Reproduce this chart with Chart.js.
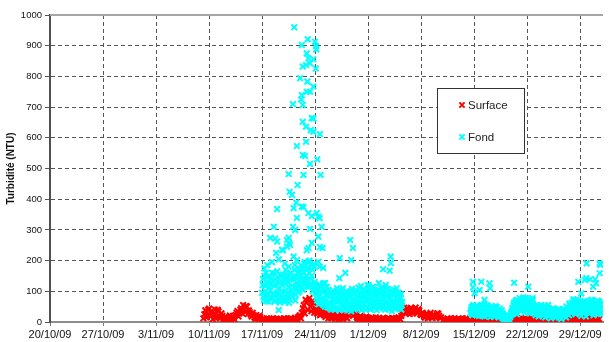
<!DOCTYPE html>
<html>
<head>
<meta charset="utf-8">
<script src="https://cdn.jsdelivr.net/npm/chart.js@4.4.1/dist/chart.umd.min.js"></script>
<style>
html,body{margin:0;padding:0;background:#fff;}
#wrap{width:609px;height:342px;}
</style>
</head>
<body>
<div id="wrap"><canvas id="c" width="609" height="342"></canvas></div>
<script>
// x values are days since 20/10/09; one tick label per week
const dateLabels = ['20/10/09','27/10/09','3/11/09','10/11/09','17/11/09','24/11/09',
                    '1/12/09','8/12/09','15/12/09','22/12/09','29/12/09'];
const yTicks = [0,100,200,300,400,500,600,700,800,900,1000];

// Surface turbidity (NTU): readings every 6 hours from day 20.25,
// plus the readings taken 3 hours after each of them
const surfaceStart = 20.25;
const surfaceStep = 0.25;
const surfaceValues = [
  12,38,22,44, 30,9,41,18, 35,12,20,6, 17,8,21,5, 14,22,36,28, 45,55,32,50,
  38,24,30,15, 22,10,16,7, 11,4,9,3, 7,12,5,9, 3,10,6,11, 4,8,12,5,
  10,6,15,22, 30,55,72,40, 78,35,62,45, 28,47,24,38, 22,30,12,25, 15,28,10,20,
  9,22,14,18, 12,35,55,20, 42,15,8,20, 6,14,18,9, 5,12,8,15, 3,11,7,14,
  9,4,13,6, 12,5,10,15, 8,30,46,27, 40,26,44,33, 47,29,38,22, 28,14,25,18,
  30,13,22,16, 27,12,null,9, 4,11,6,12, 3,9,7,10, 5,12,4,8, 3,6,2,5,
  1,4,6,2, 5,3,1,4, 2,6,3,5, 4,1,6,3, 2,5,3,6, 8,5,11,7,
  12,6,9,5, 10,7,12,6, 5,8,3,6, 4,7,2,5, 8,3,6,4, 2,7,5,3,
  9,15,7,12, 14,8,11,6, 5,10,13,4, 8,15,6,11, 4,9
];
const surfaceMidStart = 20.375;
const surfaceMidValues = [
  25,15,40,20, 36,24,12,40, 18,28,10,14, 6,15,10,19, 8,30,18,40, 28,42,52,26,
  32,18,22,10, 14,20,5,9, 6,12,5,10, 3,8,11,4, 8,4,12,7, 11,3,9,6,
  14,9,18,12, 45,28,62,70, 50,68,30,40, 36,22,44,30, 16,26,20,12, 22,12,18,8,
  16,10,20,13, 25,45,30,50, 28,12,16,10, 11,8,14,6, 9,14,4,10, 8,5,12,9,
  6,11,8,12, 7,13,4,11, 20,38,30,45, 32,46,28,40, 35,42,26,30, 20,26,12,24,
  18,25,14,28, 20,15,null,6, 8,3,10,5, 12,6,4,9, 10,6,11,4, 5,2,4,6,
  3,5,2,4, 2,6,3,5, 4,2,5,1, 3,5,2,4, 4,1,5,6, 10,6,9,12,
  8,11,7,10, 9,12,5,8, 3,6,4,7, 6,2,5,3, 5,7,3,6, 4,2,6,8,
  12,6,14,10, 9,12,7,10, 8,3,11,6, 12,5,9,14, 7
];

// Bottom ("Fond") turbidity: readings every 3 hours in two logging runs,
// plus the readings taken 90 minutes after each of them
const fondStep = 0.125;
const fondNovStart = 28.0;
const fondNovValues = [
  95,140,72,118,160,85,130,66,  150,104,78,135,92,158,70,122,
  88,145,110,64,132,98,155,80,  125,68,142,96,115,75,160,102,
  84,138,112,70,150,128,95,175, 120,185,140,105,160,195,130,150,
  178,115,200,140,125,170,110,190, 95,120,70,108,82,60,115,75,
  98,55,125,68,90,48,105,62,    85,40,72,102,55,88,45,110,
  64,95,38,78,105,52,90,70,     42,100,60,82,48,95,35,108,
  75,58,92,44,85,65,112,50,     96,38,72,104,56,88,42,80,
  110,60,95,45,82,115,52,90,    70,38,105,62,94,48,112,76,
  55,98,40,85,68,108,50,92,     78,35,100,60,88,45,110,72,
  96,52,80,40,65
];
const fondNovMidStart = 28.0625;
const fondNovMidValues = [
  120,82,150,100,68,145,90,112,  75,128,160,88,118,66,140,96,
  130,72,92,150,80,120,68,138,   100,155,82,130,62,140,90,118,
  145,95,170,88,110,160,135,100, 150,110,175,125,190,140,115,170,
  135,160,120,185,150,100,180,130, 110,78,95,58,122,90,66,100,
  70,110,50,85,115,62,92,45,     60,95,52,80,40,98,68,75,
  88,45,70,92,60,110,40,82,      72,55,90,38,78,62,100,50,
  95,40,68,102,52,80,45,90,      62,85,50,78,98,40,70,108,
  72,98,40,65,100,75,62,105,     52,88,75,45,68,95,58,100,
  85,62,110,58,90,42,75,64,      50,92,65,105,42,80,62,90,
  70,45,90,55
];
const fondDecStart = 55.5;
const fondDecValues = [
  30,48,22,55,
  38,25,52,33,45,20,50,36,  28,54,40,18,47,32,55,24,  42,16,38,50,26,45,20,35,
  48,30,15,44,25,38,12,22,  8,18,5,14,20,10,16,28,    45,30,62,38,70,25,55,42,
  78,35,60,48,80,30,66,52,  40,75,58,28,68,45,72,35,  50,22,55,38,18,46,30,52,
  25,48,35,15,44,28,55,20,  38,12,42,30,22,40,15,33,  25,42,18,35,10,38,28,20,
  40,15,32,45,22,55,30,62,  35,68,48,25,60,40,70,30,  55,20,65,42,30,58,18,50,
  45,68,28,60,38,70,22,52,  35,62,48,25,66,40,58,30
];
const fondDecMidStart = 55.5625;
const fondDecMidValues = [
  40,26,50,35,
  45,30,22,48,28,40,32,55,  20,44,35,50,25,42,30,48,  30,48,25,40,18,35,52,28,
  36,20,40,30,18,30,25,15,  12,6,15,10,8,18,22,35,    38,55,42,65,32,72,48,60,
  50,68,40,75,55,42,78,45,  62,30,65,50,38,78,52,45,  35,48,28,52,42,30,55,25,
  40,22,52,30,25,48,32,42,  22,35,28,45,18,32,26,40,  32,15,40,22,30,25,42,35,
  28,50,25,38,60,35,48,40,  58,45,30,72,38,55,45,62,  40,62,30,50,68,35,45,62,
  30,55,48,72,32,50,60,40,  52,40,70,35,55,28,48,65
];

// Additional bottom readings logged during the flood peak and later events
const fondPeakDays = [
  32.24,34.02,33.24,34.98,35.11,35.15,33.89,34.12,33.37,33.80,34.32,34.77,35.08,
  33.02,33.98,34.77,33.24,33.89,34.32,32.07,33.37,33.15,33.37,34.77,33.80,34.42,
  35.63,34.77,32.59,33.80,33.67,35.29,34.32,31.51,33.46,35.72,32.68,31.64,31.94,
  32.50,29.98,32.16,33.24,34.12,35.20,35.42,32.59,35.85,34.32,29.55,32.07,32.37,
  29.07,29.72,31.51,31.55,30.63,31.29,34.12,34.55,35.42,35.63,35.98,39.63,39.98,
  38.24,39.76,30.20,32.16,32.59,34.12,35.42,36.07,29.98,30.77,31.29,31.68,35.59,
  34.55,33.46,33.37,34.55,33.89,35.59,36.07,32.80,33.02,36.29,38.20,38.98,41.06,
  41.94,43.97,44.97,45.00,44.84,43.41,44.32,42.07,55.83,56.93,58.01,55.85,56.71,
  58.10,56.05,57.36,61.27,63.13,70.83,72.57,72.57,69.74,70.61,71.30,71.96,71.70,
  69.09,70.13,72.09,72.65,70.80,28.30,28.90,29.30,30.00,30.50,31.10,31.80,32.30,
  30.20,28.68,29.85,31.00,31.50
];
const fondPeakValues = [
  960,921,902,913,899,888,875,859,832,837,843,856,826,
  794,783,767,739,750,750,710,707,725,652,663,636,625,
  612,620,573,587,541,530,515,482,479,479,446,424,414,
  389,368,371,376,355,355,343,339,310,303,310,310,300,
  274,272,274,257,235,245,241,258,278,244,241,267,241,
  208,202,204,213,202,196,196,176,262,234,267,251,338,
  345,374,544,664,234,180,126,115,160,127,143,160,117,
  120,172,213,192,167,127,120,120,131,131,126,113,104,
  110,94,72,128,115,191,191,159,131,137,139,139,115,
  74,93,126,186,143,175,150,195,165,150,170,140,185,
  39,185,225,190,180
];

function regularSeries(start, step, values) {
  return values.map((v, i) => ({ x: start + i * step, y: v }));
}
function pairedSeries(days, values) {
  return days.map((d, i) => ({ x: d, y: values[i] }));
}

const surfaceData = regularSeries(surfaceStart, surfaceStep, surfaceValues)
  .concat(regularSeries(surfaceMidStart, surfaceStep, surfaceMidValues));
const fondData = regularSeries(fondNovStart, fondStep, fondNovValues)
  .concat(regularSeries(fondNovMidStart, fondStep, fondNovMidValues))
  .concat(regularSeries(fondDecStart, fondStep, fondDecValues))
  .concat(regularSeries(fondDecMidStart, fondStep, fondDecMidValues))
  .concat(pairedSeries(fondPeakDays, fondPeakValues));

const FONT = '"Liberation Sans", Arial, Helvetica, sans-serif';

// Solid frame line along the top and a boxed legend inside the plot
const frameAndLegend = {
  id: 'frameAndLegend',
  beforeDatasetsDraw(chart) {
    const { ctx, chartArea } = chart;
    ctx.save();
    ctx.strokeStyle = '#a6a6a6';
    ctx.lineWidth = 2;
    ctx.beginPath();
    ctx.moveTo(chartArea.left, chartArea.top);
    ctx.lineTo(chartArea.right, chartArea.top);
    ctx.stroke();
    ctx.restore();
  },
  afterDraw(chart, args, opts) {
    const ctx = chart.ctx;
    const b = opts.box;
    ctx.save();
    ctx.fillStyle = '#ffffff';
    ctx.fillRect(b.x, b.y, b.w, b.h);
    ctx.strokeStyle = '#333333';
    ctx.lineWidth = 1;
    ctx.strokeRect(b.x + 0.5, b.y + 0.5, b.w, b.h);
    ctx.font = '11.5px ' + FONT;
    ctx.textBaseline = 'middle';
    ctx.textAlign = 'left';
    chart.data.datasets.forEach((ds, i) => {
      const cx = b.x + opts.markerX;
      const cy = b.y + opts.firstRow + i * opts.rowGap;
      const s = 2.6;
      ctx.strokeStyle = ds.borderColor;
      ctx.lineWidth = 2;
      ctx.beginPath();
      ctx.moveTo(cx - s, cy - s); ctx.lineTo(cx + s, cy + s);
      ctx.moveTo(cx + s, cy - s); ctx.lineTo(cx - s, cy + s);
      ctx.stroke();
      ctx.fillStyle = '#222222';
      ctx.fillText(ds.label, cx + 6, cy + 0.5);
    });
    ctx.restore();
  }
};

new Chart(document.getElementById('c'), {
  type: 'scatter',
  data: {
    datasets: [
      {
        label: 'Surface',
        data: surfaceData,
        borderColor: '#ff0000',
        backgroundColor: '#ff0000',
        pointStyle: 'crossRot',
        pointRadius: 4,
        pointBorderWidth: 2,
        order: 1
      },
      {
        label: 'Fond',
        data: fondData,
        borderColor: '#00ffff',
        backgroundColor: '#00ffff',
        pointStyle: 'crossRot',
        pointRadius: 4,
        pointBorderWidth: 2,
        order: 0
      }
    ]
  },
  options: {
    responsive: false,
    devicePixelRatio: 1,
    animation: false,
    events: [],
    layout: { padding: { top: 15, right: 0, bottom: 0, left: 0 } },
    plugins: {
      legend: { display: false },
      tooltip: { enabled: false },
      frameAndLegend: {
        box: { x: 437, y: 88, w: 87, h: 65 },
        markerX: 25, firstRow: 17, rowGap: 32
      }
    },
    scales: {
      x: {
        type: 'linear',
        min: 0,
        max: 73,
        afterFit(scale) { scale.height = 20; },
        ticks: {
          stepSize: 7,
          includeBounds: false,
          autoSkip: false,
          maxRotation: 0,
          padding: 2,
          color: '#111111',
          font: { family: FONT, size: 11 },
          callback: (v) => dateLabels[Math.round(v / 7)] ?? ''
        },
        grid: {
          color: '#555555',
          lineWidth: 1,
          drawTicks: true,
          tickLength: 4,
          tickColor: '#7a7a7a',
          tickWidth: 1
        },
        border: { display: true, color: '#8c8c8c', width: 2, dash: [4, 3] }
      },
      y: {
        min: 0,
        max: 1000,
        afterFit(scale) { scale.width = 50; },
        afterBuildTicks(scale) { scale.ticks = yTicks.map(v => ({ value: v })); },
        ticks: {
          padding: 3,
          color: '#111111',
          font: { family: FONT, size: 9.5 },
          callback: (v) => String(v)
        },
        grid: {
          color: '#555555',
          lineWidth: 1,
          drawTicks: true,
          tickLength: 5,
          tickColor: '#555555',
          tickWidth: 1
        },
        border: { display: true, color: '#505050', width: 2, dash: [4, 3] },
        title: {
          display: true,
          text: 'Turbidité (NTU)',
          color: '#111111',
          font: { family: FONT, size: 10, weight: 'bold' },
          padding: { top: 5, bottom: 0 }
        }
      }
    }
  },
  plugins: [frameAndLegend]
});
</script>
</body>
</html>
